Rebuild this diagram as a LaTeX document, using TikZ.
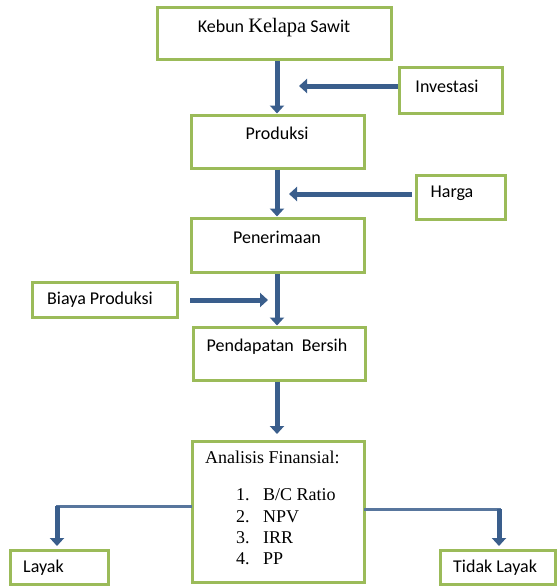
\documentclass[tikz,border=0pt]{standalone}
\usepackage{fontspec}
\setmainfont{Carlito}
\newfontfamily\tnr{Liberation Serif}
\usetikzlibrary{arrows.meta}
\definecolor{boxgreen}{RGB}{155,187,89}
\definecolor{arrowblue}{RGB}{58,94,140}
\begin{document}
\begin{tikzpicture}[x=1pt,y=-1pt,
  box/.style={draw=boxgreen,line width=3pt,fill=white,inner sep=0pt},
  lbl/.style={inner sep=0pt,font=\fontsize{18}{20}\selectfont},
  ser/.style={inner sep=0pt,anchor=west,font=\tnr\fontsize{18}{20}\selectfont},
  flow/.style={draw=arrowblue,line width=5pt,-{Triangle[width=14pt,length=8pt]}},
  link/.style={draw=arrowblue!85!white,line width=3pt,line cap=rect}]
\useasboundingbox (0,0) rectangle (558,586);
% boxes
\node[box,minimum width=234pt,minimum height=52pt] (kebun) at (274,34) {};
\node[box,minimum width=103pt,minimum height=45pt] (investasi) at (450.5,90.5) {};
\node[box,minimum width=173pt,minimum height=53pt] (produksi) at (277.5,141.5) {};
\node[box,minimum width=89pt,minimum height=44pt] (harga) at (460.5,197) {};
\node[box,minimum width=173pt,minimum height=54pt] (penerimaan) at (277.5,245) {};
\node[box,minimum width=145pt,minimum height=35pt] (biaya) at (104.5,299.5) {};
\node[box,minimum width=172pt,minimum height=53pt] (pendapatan) at (279,353.5) {};
\node[box,minimum width=172pt,minimum height=141pt] (analisis) at (278,511.5) {};
\node[box,minimum width=98pt,minimum height=34pt] (layak) at (59,567) {};
\node[box,minimum width=115pt,minimum height=34pt] (tidak) at (497.5,567) {};
% texts
\node[lbl] (tkebun) at (274,28) {Kebun {\tnr\fontsize{20.5}{22}\selectfont Kelapa} Sawit};
\node[lbl] (tinv) at (447,86) {Investasi};
\node[lbl] (tprod) at (277,133) {Produksi};
\node[lbl] (tharga) at (452,193) {Harga};
\node[lbl] (tpen) at (277,237) {Penerimaan};
\node[lbl] (tbiaya) at (100,300) {Biaya Produksi};
\node[lbl] (tpend) at (277,347) {Pendapatan\hspace{4pt} Bersih};
\node[ser] (tana) at (205,457) {Analisis Finansial:};
\node[ser] (n1) at (236,495) {1.};
\node[ser] (n2) at (236,517) {2.};
\node[ser] (n3) at (236,538) {3.};
\node[ser] (n4) at (236,559) {4.};
\node[ser] (i1) at (263,495) {B/C Ratio};
\node[ser] (i2) at (263,517) {NPV};
\node[ser] (i3) at (263,538) {IRR};
\node[ser] (i4) at (263,559) {PP};
\node[lbl,anchor=west] (tlayak) at (23,568) {Layak};
\node[lbl,anchor=west] (ttidak) at (453,568) {Tidak Layak};
% coordinates
\coordinate (invtip) at (299,86);
\coordinate (hargatip) at (289,194);
\coordinate (hargastart) at (412,194);
\coordinate (biayastart) at (190,300);
\coordinate (biayatip) at (268,300);
\coordinate (lc) at (57,506);
\coordinate (rc) at (499,509);
\coordinate (ltip) at (57,546);
\coordinate (rtip) at (499,546);
\coordinate (pendtip) at (277,434);
\coordinate (a1s) at (277,60);
% arrows
\draw[flow] (kebun.south -| a1s) -- (a1s |- produksi.north);
\draw[flow] (produksi.south -| a1s) -- (a1s |- penerimaan.north);
\draw[flow] (penerimaan.south -| a1s) -- (a1s |- pendapatan.north);
\draw[flow] (pendapatan.south -| pendtip) -- (pendtip);
\draw[flow] (investasi.west |- invtip) -- (invtip);
\draw[flow] (hargastart) -- (hargatip);
\draw[flow] (biayastart) -- (biayatip);
\draw[link] (analisis.west |- lc) -- (lc);
\draw[flow] (lc) -- (ltip);
\draw[link] (analisis.east |- rc) -- (rc);
\draw[flow] (rc) -- (rtip);
\end{tikzpicture}
\end{document}
